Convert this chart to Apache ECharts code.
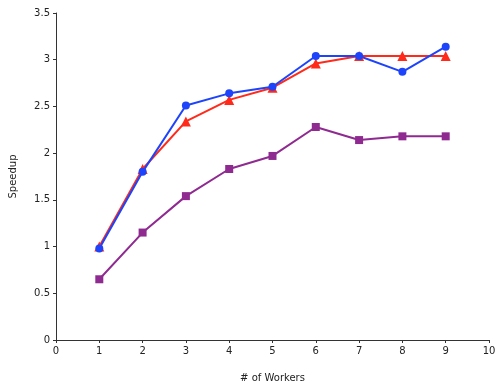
<!DOCTYPE html>
<html>
<head>
<meta charset="utf-8">
<script src="https://cdn.jsdelivr.net/npm/echarts@6/dist/echarts.min.js"></script>
<style>html,body{margin:0;padding:0;background:#fff}#c{width:500px;height:390px}</style>
</head>
<body>
<div id="c"></div>
<script>
const workers = [1, 2, 3, 4, 5, 6, 7, 8, 9];
const blueSeries = [0.98, 1.80, 2.51, 2.64, 2.71, 3.04, 3.04, 2.87, 3.14];
const redSeries = [1.00, 1.83, 2.34, 2.57, 2.70, 2.96, 3.04, 3.04, 3.04];
const purpleSeries = [0.65, 1.15, 1.54, 1.83, 1.97, 2.28, 2.14, 2.18, 2.18];
const xTitle = '# of Workers';
const yTitle = 'Speedup';

const pair = (vals) => workers.map((w, i) => [w, vals[i]]);
const font = 'DejaVu Sans';
const chart = echarts.init(document.getElementById('c'), null, {renderer: 'canvas'});
const axisCommon = {
  axisLine: {show: true, onZero: false, lineStyle: {color: '#333', width: 1}},
  axisTick: {show: true, length: 3, lineStyle: {color: '#333'}},
  splitLine: {show: false},
  axisLabel: {color: '#222', fontFamily: font, fontSize: 10}
};
chart.setOption({
  animation: false,
  backgroundColor: '#fff',
  grid: {left: 54, right: 11, top: 13, bottom: 50, containLabel: false},
  xAxis: Object.assign({
    type: 'value', min: 0, max: 10, interval: 1,
    name: xTitle, nameLocation: 'middle', nameGap: 33,
    nameTextStyle: {color: '#222', fontFamily: font, fontSize: 10}
  }, axisCommon, {axisLabel: {color: '#222', fontFamily: font, fontSize: 10, margin: 6}}),
  yAxis: Object.assign({
    type: 'value', min: 0, max: 3.5, interval: 0.5,
    name: yTitle, nameLocation: 'middle', nameGap: 38, nameRotate: 90,
    nameTextStyle: {color: '#222', fontFamily: font, fontSize: 10}
  }, axisCommon, {axisLabel: {color: '#222', fontFamily: font, fontSize: 10, margin: 6}}),
  series: [
    {type: 'line', data: pair(purpleSeries), symbol: 'rect', symbolSize: 8,
     lineStyle: {color: '#8e2a90', width: 2}, itemStyle: {color: '#8e2a90'}},
    {type: 'line', data: pair(redSeries), symbol: 'triangle', symbolSize: 10,
     lineStyle: {color: '#ff2a1a', width: 2}, itemStyle: {color: '#ff2a1a'}},
    {type: 'line', data: pair(blueSeries), symbol: 'circle', symbolSize: 8,
     lineStyle: {color: '#1d44fb', width: 2}, itemStyle: {color: '#1d44fb'}}
  ]
});
</script>
</body>
</html>
